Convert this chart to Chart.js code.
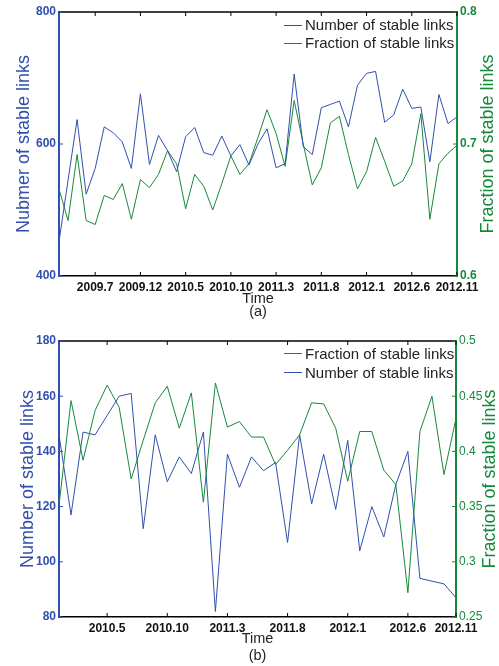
<!DOCTYPE html>
<html>
<head>
<meta charset="utf-8">
<script src="https://cdn.jsdelivr.net/npm/chart.js@4.4.0/dist/chart.umd.min.js"></script>
<style>
  body { margin: 0; background: #fff; width: 499px; height: 666px; overflow: hidden; position: relative; font-family: "Liberation Sans", Arial, sans-serif; }
  canvas { position: absolute; left: 0; }
  #chartA { top: 0; }
  #chartB { top: 322px; }
  .legend { position: absolute; left: 284px; font-size: 15px; color: #222; }
  .legend div { display: flex; align-items: center; white-space: nowrap; }
  .legend .sw { display: inline-block; width: 18px; height: 1px; margin-right: 3px; }
</style>
</head>
<body>
<canvas id="chartA" width="499" height="322"></canvas>
<canvas id="chartB" width="499" height="344"></canvas>
<div class="legend" id="legendA" style="top:16px; line-height:18px;"></div>
<div class="legend" id="legendB" style="top:344px; line-height:19px;"></div>
<script>
const BLUE = '#3150ad';
const GREEN = '#17893b';

// month labels "YYYY.M"
function monthRange(year, month, count) {
    const out = [];
    for (let i = 0; i < count; i++) {
        const m = month - 1 + i;
        out.push((year + Math.floor(m / 12)) + '.' + (m % 12 + 1));
    }
    return out;
}

// (a) 2009.3 - 2012.11
const monthsA = monthRange(2009, 3, 45);
const numA = [452, 545, 637, 524, 563, 626, 617, 603, 563, 676,
              569, 613, 590, 558, 611, 625, 587, 583, 612, 582,
              599, 568, 600, 623, 564, 570, 706, 596, 584, 655,
              660, 665, 626, 689, 707, 710, 633, 644, 683, 654,
              656, 573, 675, 631, 641];
const fracA = [0.666, 0.642, 0.692, 0.642, 0.639, 0.661, 0.658, 0.670, 0.643, 0.673,
               0.667, 0.677, 0.695, 0.685, 0.651, 0.677, 0.668, 0.650, 0.670, 0.691,
               0.677, 0.685, 0.705, 0.726, 0.708, 0.683, 0.733, 0.700, 0.669, 0.682,
               0.716, 0.721, 0.692, 0.666, 0.679, 0.705, 0.687, 0.668, 0.672, 0.685,
               0.723, 0.643, 0.685, 0.693, 0.699];
const tickIdxA = [4, 9, 14, 19, 24, 29, 34, 39, 44];
const tickLblA = ['2009.7', '2009.12', '2010.5', '2010.10', '2011.3', '2011.8', '2012.1', '2012.6', '2012.11'];

// (b) 2010.1 onwards
const monthsB = monthRange(2010, 1, 34);
const numB = [146, 117, 147, 146, 153, 160, 161, 112, 146, 129,
              138, 132, 147, 82, 139, 127, 138, 133, 136, 107,
              146, 121, 139, 119, 144, 104, 120, 109, 128, 140,
              94, 93, 92, 87];
const fracB = [0.351, 0.446, 0.392, 0.437, 0.460, 0.440, 0.375, 0.410, 0.444, 0.459,
               0.421, 0.453, 0.354, 0.462, 0.422, 0.427, 0.413, 0.413, 0.388, 0.401,
               0.415, 0.444, 0.443, 0.421, 0.373, 0.418, 0.418, 0.383, 0.370, 0.272,
               0.418, 0.450, 0.379, 0.430];
const tickIdxB = [4, 9, 14, 19, 24, 29, 33];
const tickLblB = ['2010.5', '2010.10', '2011.3', '2011.8', '2012.1', '2012.6', '2012.11'];

Chart.defaults.font.family = '"Liberation Sans", Arial, sans-serif';

// top border, inward ticks (matlab style) and the right axis title
const frame = {
    id: 'frame',
    afterDraw(chart, args, opts) {
        const { ctx, chartArea: a, scales } = chart;
        ctx.save();
        ctx.lineWidth = 1.5;
        ctx.strokeStyle = '#000';
        ctx.beginPath();
        ctx.moveTo(a.left, a.top);
        ctx.lineTo(a.right, a.top);
        ctx.stroke();

        ctx.lineWidth = 1;
        ctx.beginPath();
        scales.x.ticks.forEach(t => {
            const px = scales.x.getPixelForValue(t.value);
            ctx.moveTo(px, a.bottom); ctx.lineTo(px, a.bottom - 4);
            ctx.moveTo(px, a.top); ctx.lineTo(px, a.top + 4);
        });
        ctx.stroke();

        ctx.strokeStyle = BLUE;
        ctx.beginPath();
        scales.y.ticks.forEach(t => {
            const py = scales.y.getPixelForValue(t.value);
            ctx.moveTo(a.left, py); ctx.lineTo(a.left + 4, py);
        });
        ctx.stroke();

        ctx.strokeStyle = GREEN;
        ctx.beginPath();
        scales.y2.ticks.forEach(t => {
            const py = scales.y2.getPixelForValue(t.value);
            ctx.moveTo(a.right, py); ctx.lineTo(a.right - 4, py);
        });
        ctx.stroke();

        ctx.translate(opts.titleX, (a.top + a.bottom) / 2);
        ctx.rotate(-Math.PI / 2);
        ctx.fillStyle = GREEN;
        ctx.font = '18px "Liberation Sans", Arial, sans-serif';
        ctx.textAlign = 'center';
        ctx.textBaseline = 'middle';
        ctx.fillText(opts.title, 0, 0);
        ctx.restore();
    }
};

function build(id, o) {
    return new Chart(document.getElementById(id), {
        type: 'line',
        data: {
            labels: o.labels,
            datasets: o.series.map(s => ({
                label: s.name,
                data: s.data,
                yAxisID: s.axis,
                borderColor: s.color,
                borderWidth: 1,
                pointRadius: 0,
                tension: 0,
                fill: false
            }))
        },
        options: {
            responsive: false,
            animation: false,
            layout: { padding: { top: o.padTop, left: 0, right: 0, bottom: 0 } },
            plugins: {
                legend: { display: false },
                tooltip: { enabled: false },
                frame: { title: 'Fraction of stable links', titleX: o.rightTitleX }
            },
            scales: {
                x: {
                    type: 'category',
                    afterFit: s => { s.height = o.xHeight; },
                    afterBuildTicks: s => { s.ticks = o.tickIdx.map(v => ({ value: v })); },
                    grid: { drawOnChartArea: false, drawTicks: false },
                    border: { color: '#000', width: 1.5 },
                    ticks: {
                        autoSkip: false, maxRotation: 0, padding: 4, color: '#111',
                        font: { size: 12, weight: 'bold' },
                        callback: v => o.tickLbl[o.tickIdx.indexOf(v)]
                    },
                    title: {
                        display: true, text: ['Time', o.tag], color: '#222',
                        font: { size: 14.5, lineHeight: o.titleLH },
                        padding: { top: 0, bottom: o.titlePadB }
                    }
                },
                y: {
                    position: 'left', min: o.yMin, max: o.yMax,
                    afterFit: s => { s.width = 59; },
                    grid: { drawOnChartArea: false, drawTicks: false },
                    border: { color: BLUE, width: 2 },
                    ticks: { stepSize: o.yStep, color: BLUE, padding: 3, font: { size: 12, weight: 'bold' } },
                    title: {
                        display: true, text: o.leftTitle, color: BLUE,
                        font: { size: 18 }, padding: { top: o.leftTitlePad, bottom: 0 }
                    }
                },
                y2: {
                    position: 'right', min: o.y2Min, max: o.y2Max,
                    afterFit: s => { s.width = o.rightWidth; },
                    grid: { drawOnChartArea: false, drawTicks: false },
                    border: { color: GREEN, width: 2 },
                    ticks: {
                        stepSize: o.y2Step, color: GREEN, padding: 3,
                        font: { size: 12, weight: o.rightBold ? 'bold' : 'normal' },
                        callback: v => String(+v.toFixed(2))
                    }
                }
            }
        },
        plugins: [frame]
    });
}

const seriesA = [
    { name: 'Number of stable links', data: numA, axis: 'y', color: BLUE },
    { name: 'Fraction of stable links', data: fracA, axis: 'y2', color: GREEN }
];
const seriesB = [
    { name: 'Fraction of stable links', data: fracB, axis: 'y2', color: GREEN },
    { name: 'Number of stable links', data: numB, axis: 'y', color: BLUE }
];

build('chartA', {
    labels: monthsA, series: seriesA, tickIdx: tickIdxA, tickLbl: tickLblA, tag: '(a)',
    padTop: 12, xHeight: 46, titleLH: 0.9, titlePadB: 3.5,
    yMin: 400, yMax: 800, yStep: 200, y2Min: 0.6, y2Max: 0.8, y2Step: 0.1,
    leftTitle: 'Nubmer of stable links', leftTitlePad: 13,
    rightWidth: 42, rightTitleX: 488.5, rightBold: true
});

build('chartB', {
    labels: monthsB, series: seriesB, tickIdx: tickIdxB, tickLbl: tickLblB, tag: '(b)',
    padTop: 19, xHeight: 49, titleLH: 1.17, titlePadB: 2,
    yMin: 80, yMax: 180, yStep: 20, y2Min: 0.25, y2Max: 0.5, y2Step: 0.05,
    leftTitle: 'Number of stable links', leftTitlePad: 17,
    rightWidth: 43, rightTitleX: 490.5, rightBold: false
});

function legend(id, series) {
    const el = document.getElementById(id);
    series.forEach(s => {
        const row = document.createElement('div');
        row.innerHTML = `<span class="sw" style="background:${s.color}"></span>${s.name}`;
        el.appendChild(row);
    });
}
legend('legendA', seriesA);
legend('legendB', seriesB);
</script>
</body>
</html>
